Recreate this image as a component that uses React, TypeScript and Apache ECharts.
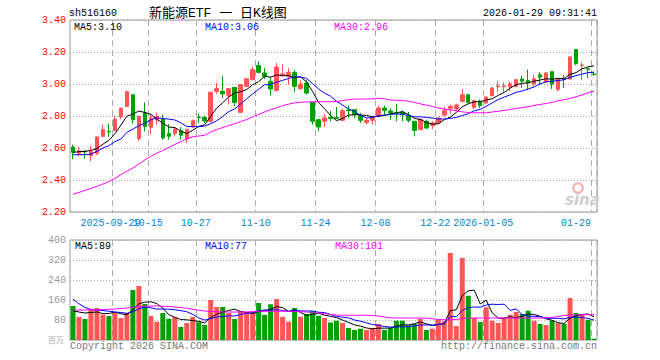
import React, { useEffect, useRef } from "react";
import * as echarts from "echarts";

const dates = [
  "2025-09-18","2025-09-19","2025-09-22","2025-09-23","2025-09-24","2025-09-25","2025-09-26","2025-09-29","2025-09-30",
  "2025-10-09","2025-10-10","2025-10-13","2025-10-14","2025-10-15","2025-10-16","2025-10-17","2025-10-20","2025-10-21",
  "2025-10-22","2025-10-23","2025-10-24","2025-10-27","2025-10-28","2025-10-29","2025-10-30","2025-10-31",
  "2025-11-03","2025-11-04","2025-11-05","2025-11-06","2025-11-07","2025-11-10","2025-11-11","2025-11-12","2025-11-13",
  "2025-11-14","2025-11-17","2025-11-18","2025-11-19","2025-11-20","2025-11-21","2025-11-24","2025-11-25","2025-11-26",
  "2025-11-27","2025-11-28","2025-12-01","2025-12-02","2025-12-03","2025-12-04","2025-12-05","2025-12-08","2025-12-09",
  "2025-12-10","2025-12-11","2025-12-12","2025-12-15","2025-12-16","2025-12-17","2025-12-18","2025-12-19","2025-12-22",
  "2025-12-23","2025-12-24","2025-12-25","2025-12-26","2025-12-29","2025-12-30","2025-12-31","2026-01-05","2026-01-06",
  "2026-01-07","2026-01-08","2026-01-09","2026-01-12","2026-01-13","2026-01-14","2026-01-15","2026-01-16","2026-01-19",
  "2026-01-20","2026-01-21","2026-01-22","2026-01-23","2026-01-26","2026-01-27","2026-01-28","2026-01-29",
];

const opens = [
  2.606,2.567,2.580,2.552,2.565,2.673,2.704,2.710,2.794,2.860,
  2.933,2.658,2.819,2.729,2.777,2.781,2.690,2.690,2.708,2.656,
  2.731,2.794,2.790,2.767,2.954,2.954,2.929,2.979,2.823,2.985,
  3.027,3.115,3.069,3.017,2.960,3.056,3.048,3.073,2.971,3.006,
  2.885,2.777,2.767,2.790,2.790,2.773,2.838,2.840,2.802,2.760,
  2.773,2.798,2.850,2.831,2.819,2.825,2.802,2.767,2.715,2.767,
  2.740,2.756,2.806,2.848,2.844,2.892,2.933,2.854,2.892,2.881,
  2.927,2.983,2.983,2.981,2.985,3.031,3.021,3.000,3.058,3.010,
  3.077,2.965,3.033,3.031,3.215,3.115,3.096,3.063,
];
const closes = [
  2.573,2.583,2.575,2.579,2.669,2.715,2.700,2.781,2.848,2.952,
  2.777,2.798,2.735,2.788,2.798,2.663,2.673,2.719,2.679,2.715,
  2.771,2.790,2.769,2.948,2.971,2.938,2.971,2.885,2.996,3.033,
  3.090,3.073,3.048,2.969,3.106,3.063,3.073,2.985,3.000,2.944,
  2.767,2.731,2.788,2.785,2.785,2.833,2.833,2.808,2.773,2.773,
  2.788,2.850,2.835,2.819,2.815,2.810,2.773,2.710,2.781,2.725,
  2.756,2.788,2.835,2.860,2.869,2.933,2.885,2.896,2.865,2.919,
  2.975,2.988,2.988,3.002,3.027,3.017,3.006,3.033,3.042,3.069,
  3.000,3.031,3.029,3.169,3.127,3.119,3.092,3.060,
];
const lows = [
  2.531,2.548,2.533,2.517,2.555,2.669,2.669,2.704,2.781,2.856,
  2.752,2.642,2.704,2.685,2.746,2.652,2.652,2.673,2.652,2.631,
  2.725,2.756,2.756,2.760,2.938,2.913,2.871,2.860,2.819,2.981,
  3.023,3.069,3.031,2.927,2.954,3.048,2.996,2.948,2.965,2.933,
  2.746,2.704,2.731,2.767,2.781,2.767,2.788,2.788,2.756,2.746,
  2.746,2.794,2.808,2.777,2.767,2.767,2.760,2.673,2.710,2.719,
  2.719,2.750,2.794,2.813,2.829,2.885,2.881,2.844,2.850,2.877,
  2.923,2.948,2.948,2.954,2.979,2.975,2.965,2.985,2.996,3.006,
  2.969,2.954,2.975,3.027,3.119,3.023,3.038,3.052,
];
const highs = [
  2.621,2.610,2.583,2.614,2.673,2.746,2.752,2.802,2.854,2.960,
  2.933,2.802,2.885,2.815,2.819,2.808,2.750,2.731,2.731,2.719,
  2.777,2.815,2.802,2.954,3.006,3.052,2.971,2.979,3.000,3.033,
  3.110,3.142,3.100,3.044,3.131,3.121,3.100,3.090,3.027,3.027,
  2.885,2.781,2.813,2.833,2.856,2.844,2.865,2.840,2.819,2.788,
  2.802,2.865,2.865,2.850,2.877,2.835,2.825,2.767,2.781,2.777,
  2.767,2.794,2.856,2.871,2.877,2.969,2.940,2.902,2.902,2.923,
  2.981,3.021,3.010,3.017,3.031,3.052,3.090,3.058,3.075,3.075,
  3.077,3.038,3.058,3.173,3.215,3.135,3.100,3.075,
];
const volumes = [
  136,92,84,121,128,101,96,112,88,108,
  200,216,144,96,73,108,85,91,52,68,
  92,71,60,160,132,132,108,84,115,111,
  112,148,100,143,164,93,73,128,93,104,
  115,97,88,70,77,68,48,40,45,40,
  48,64,40,48,77,77,59,64,84,40,
  45,80,75,348,56,328,177,88,72,131,
  77,68,88,101,112,104,117,77,64,60,
  77,67,64,168,108,101,81,5,
];

// moving averages: leading values (they depend on earlier days)
const ma5Head = [2.573, 2.577, 2.579, 2.585];
const ma10Head = [2.558, 2.558, 2.558, 2.562, 2.579, 2.600, 2.615, 2.640, 2.656];
const ma30 = [
  2.312,2.322,2.335,2.347,2.360,2.375,2.390,2.410,2.433,2.455,
  2.475,2.500,2.525,2.548,2.568,2.585,2.603,2.622,2.640,2.658,
  2.670,2.675,2.680,2.700,2.715,2.728,2.740,2.752,2.765,2.778,
  2.795,2.810,2.825,2.840,2.852,2.865,2.874,2.882,2.886,2.888,
  2.889,2.889,2.889,2.889,2.891,2.896,2.902,2.906,2.906,2.906,
  2.907,2.911,2.908,2.900,2.898,2.897,2.893,2.885,2.876,2.868,
  2.860,2.850,2.844,2.838,2.832,2.826,2.822,2.820,2.820,2.820,
  2.825,2.830,2.835,2.840,2.848,2.852,2.858,2.866,2.872,2.878,
  2.885,2.895,2.902,2.910,2.920,2.932,2.945,2.956,
];
const volMa5Head = [117, 112, 108, 110];
const volMa10Head = [163, 145, 130, 122, 120, 118, 115, 112, 110];
const volMa30 = [
  120,120,120,121,121,122,123,124,126,128,
  131,133,135,136,136,135,134,132,130,127,
  123,119,116,114,113,112,112,112,112,112,
  114,115,115,115,115,115,115,114,113,112,
  110,108,106,102,100,99,99,99,99,99,
  98,96,92,89,88,88,88,88,88,87,
  85,82,81,81,82,86,88,88,88,88,
  88,88,88,88,88,88,88,88,88,89,
  90,94,98,100,101,101,101,101,
];

const tickIndex = [7, 13, 21, 31, 41, 51, 61, 69, 87];
const tickText = ["2025-09-29", "10-15", "10-27", "11-10", "11-24", "12-08", "12-22", "2026-01-05", "01-29"];

const priceMin = 2.2;
const priceMax = 3.4;
const priceStep = 0.2;
const volMax = 400;
const volStep = 80;

const legendPrice = ["MA5:3.10", "MA10:3.06", "MA30:2.96"];
const legendVol = ["MA5:89", "MA10:77", "MA30:101"];

const RED = "#FF5555";
const GREEN = "#00A000";
const MONO = "'Liberation Mono', 'DejaVu Sans Mono', monospace";
const XLABEL = "#0A84CF";

function movingAverage(values: number[], n: number, head: number[], digits: number) {
  return values.map((_, i) => {
    if (i < head.length) return head[i];
    let s = 0;
    for (let k = i - n + 1; k <= i; k++) s += values[k];
    return +(s / n).toFixed(digits);
  });
}

export default function App() {
  const ref = useRef<HTMLDivElement>(null);
  useEffect(() => {
    if (!ref.current) return;
    const chart = echarts.init(ref.current, null, { renderer: "svg" });
    const ma5 = movingAverage(closes, 5, ma5Head, 3);
    const ma10 = movingAverage(closes, 10, ma10Head, 3);
    const vma5 = movingAverage(volumes, 5, volMa5Head, 1);
    const vma10 = movingAverage(volumes, 10, volMa10Head, 1);
    const showTick = (i: number) => tickIndex.indexOf(i) >= 0;
    const firstTick = tickIndex[0];
    const vSplit = { show: true, interval: showTick, lineStyle: { color: "#aaa", width: 1, type: [6, 4] } };
    const hSplit = { show: true, lineStyle: { color: "#aaa", width: 1, type: [1, 2] } };
    const lineSeries = (name: string, data: number[], color: string, idx: number) => ({
      name, type: "line", data, xAxisIndex: idx, yAxisIndex: idx, symbol: "none", smooth: false,
      lineStyle: { color, width: 1 }, itemStyle: { color }, silent: true, z: 3,
    });
    const txt = (text: string, x: number, y: number, fill: string, extra: any = {}) => ({
      type: "text", x, y,
      style: { text, fill, font: `10px ${MONO}`, verticalAlign: "middle", ...extra },
      z: 10,
    });
    const labelBase = { color: XLABEL, fontFamily: MONO, fontSize: 10, margin: 6, padding: [0, 6, 0, 0], hideOverlap: false };
    chart.setOption({
      animation: false,
      backgroundColor: "#fff",
      grid: [
        { left: 70, top: 20, width: 527, height: 192, show: true, borderColor: "#999", borderWidth: 1 },
        { left: 70, top: 240, width: 527, height: 100, show: true, borderColor: "#999", borderWidth: 1 },
      ],
      xAxis: [
        {
          type: "category", gridIndex: 0, data: dates, boundaryGap: true, position: "bottom",
          axisLine: { show: false }, axisTick: { show: false },
          axisLabel: {
            ...labelBase,
            interval: (i: number) => showTick(i) && i !== firstTick,
            formatter: (_v: string, i: number) => {
              const k = tickIndex.indexOf(i);
              if (k < 0) return "";
              return k === tickIndex.length - 1 ? `{e|${tickText[k]}}` : tickText[k];
            },
            rich: { e: { color: XLABEL, fontFamily: MONO, fontSize: 10, padding: [0, 30, 0, 0] } },
          },
          splitLine: vSplit,
        },
        {
          type: "category", gridIndex: 1, data: dates, boundaryGap: true,
          axisLine: { show: false }, axisTick: { show: false }, axisLabel: { show: false },
          splitLine: vSplit,
        },
        {
          type: "category", gridIndex: 0, data: dates, boundaryGap: true, position: "bottom", offset: 0,
          axisLine: { show: false }, axisTick: { show: false }, splitLine: { show: false },
          axisLabel: {
            ...labelBase,
            padding: [0, 9, 0, 0],
            interval: (i: number) => i === firstTick,
            formatter: (_v: string, i: number) => (i === firstTick ? tickText[0] : ""),
          },
        },
      ],
      yAxis: [
        {
          type: "value", gridIndex: 0, min: priceMin, max: priceMax, interval: priceStep,
          axisLine: { show: false }, axisTick: { show: false },
          axisLabel: { formatter: (v: number) => v.toFixed(2), color: "#FF0000", fontFamily: MONO, fontSize: 10, margin: 4 },
          splitLine: hSplit,
        },
        {
          type: "value", gridIndex: 1, min: 0, max: volMax, interval: volStep,
          axisLine: { show: false }, axisTick: { show: false },
          axisLabel: { formatter: (v: number) => (v === 0 ? "" : String(v)), color: "#999", fontFamily: MONO, fontSize: 10, margin: 4 },
          splitLine: hSplit,
        },
      ],
      series: [
        {
          name: "K", type: "candlestick", xAxisIndex: 0, yAxisIndex: 0, barWidth: 4,
          data: dates.map((_, i) => [opens[i], closes[i], lows[i], highs[i]]),
          itemStyle: { color: RED, color0: GREEN, borderColor: RED, borderColor0: GREEN, borderWidth: 1 },
          silent: true, z: 2,
        },
        lineSeries("MA5", ma5, "#000000", 0),
        lineSeries("MA10", ma10, "#0000FF", 0),
        lineSeries("MA30", ma30, "#FF00FF", 0),
        {
          name: "VOL", type: "bar", xAxisIndex: 1, yAxisIndex: 1, barWidth: 5,
          data: volumes.map((v, i) => ({ value: v, itemStyle: { color: closes[i] >= opens[i] ? RED : GREEN } })),
          silent: true, z: 2,
        },
        lineSeries("VMA5", vma5, "#000000", 1),
        lineSeries("VMA10", vma10, "#0000FF", 1),
        lineSeries("VMA30", volMa30, "#FF00FF", 1),
      ],
      graphic: [
        txt("sh516160", 69, 13, "#000"),
        { type: "text", x: 149, y: 13, z: 10,
          style: { text: "新能源ETF 一 日K线图", fill: "#000", font: `13px 'Liberation Mono', 'Noto Sans CJK SC'`, verticalAlign: "middle" } },
        txt("2026-01-29 09:31:41", 597, 13, "#000", { align: "right" }),
        txt(legendPrice[0], 74, 27, "#000"),
        txt(legendPrice[1], 205, 27, "#0000FF"),
        txt(legendPrice[2], 334, 27, "#FF00FF"),
        txt(legendVol[0], 75, 246, "#000"),
        txt(legendVol[1], 205, 246, "#0000FF"),
        txt(legendVol[2], 335, 246, "#FF00FF"),
        txt("Copyright 2026 SINA.COM", 70, 346, "#777"),
        txt("http://finance.sina.com.cn", 597, 346, "#777", { align: "right" }),
        { type: "text", x: 64, y: 339, z: 10,
          style: { text: "百万", fill: "#aaa", font: "8px 'Noto Sans CJK SC'", align: "right", verticalAlign: "middle" } },
        { type: "ring", shape: { cx: 578, cy: 188, r: 6, r0: 3.5 }, style: { fill: "#f3b8b8" }, z: 1 },
        { type: "text", x: 565, y: 200, z: 1,
          style: { text: "sina", fill: "#cfcfcf", font: "italic bold 15px 'DejaVu Sans'", verticalAlign: "middle" } },
      ],
    });
    return () => chart.dispose();
  }, []);
  return <div ref={ref} style={{ position: "absolute", left: 0, top: 0, width: 660, height: 360 }} />;
}
